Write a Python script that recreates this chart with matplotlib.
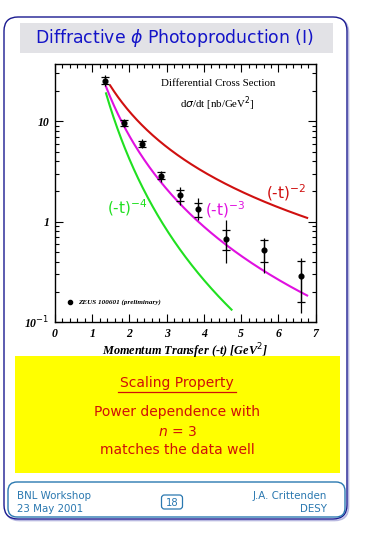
import matplotlib
matplotlib.use("Agg")
import matplotlib.pyplot as plt
import numpy as np
from matplotlib.patches import FancyBboxPatch, Rectangle
from matplotlib.ticker import FixedLocator, MultipleLocator, LogLocator, NullFormatter

# ---------------- data ----------------
t_vals = [1.35, 1.84, 2.34, 2.85, 3.35, 3.85, 4.60, 5.61, 6.61]
xsec = [25.0, 9.6, 5.9, 2.85, 1.84, 1.33, 0.67, 0.52, 0.285]
tot_hi = [29.0, 10.6, 6.7, 3.2, 2.22, 1.74, 1.05, 0.69, 0.436]
tot_lo = [22.5, 8.8, 5.45, 2.5, 1.48, 1.05, 0.39, 0.31, 0.124]
stat_hi = [27.5, 10.3, 6.4, 3.1, 2.05, 1.55, 0.83, 0.66, 0.41]
stat_lo = [23.5, 9.0, 5.6, 2.65, 1.62, 1.12, 0.52, 0.40, 0.16]

# power-law curves  A * (-t)^(-n)
curve_n = [2, 3, 4]
curve_norm = [50.0, 57.0, 67.0]
curve_tmin = [1.48, 1.37, 1.37]
curve_tmax = [6.77, 6.77, 4.74]
curve_colors = ["#d01010", "#e010e0", "#20e020"]
curve_labels = ["(-t)$^{-2}$", "(-t)$^{-3}$", "(-t)$^{-4}$"]
label_pos = [(6.2, 1.95), (4.58, 1.32), (1.95, 1.38)]

x_ticks = [0, 1, 2, 3, 4, 5, 6, 7]
y_ticks = [0.1, 1, 10]
y_ticklabels = ["10$^{-1}$", "1", "10"]

W, H = 365, 535
fig = plt.figure(figsize=(W / 100, H / 100), dpi=100)

# -------------- page decoration (pixel coordinates) --------------
bg = fig.add_axes([0, 0, 1, 1], zorder=0)
bg.set_xlim(0, W)
bg.set_ylim(H, 0)
bg.axis("off")

# outer frame with light shadow
bg.add_patch(FancyBboxPatch((5.5, 18.5), 343, 502, boxstyle="round,pad=0,rounding_size=14",
                            fc="none", ec="#b8b8e0", lw=1.2))
bg.add_patch(FancyBboxPatch((4, 17), 343, 502, boxstyle="round,pad=0,rounding_size=14",
                            fc="white", ec="#1a1a90", lw=1.0))
# title box
bg.add_patch(Rectangle((20, 22.5), 313, 30.5, fc="#e2e2e6", ec="none"))
bg.text(174, 38, r"Diffractive $\phi$ Photoproduction (I)", color="#1414c8",
        fontsize=12.4, family="DejaVu Sans", ha="center", va="center")

# yellow box
bg.add_patch(Rectangle((15, 356), 325, 117, fc="#ffff00", ec="none"))
red_txt = "#d01008"
fs_y = 10.0
bg.text(177, 383, "Scaling Property", color=red_txt, fontsize=fs_y,
        family="DejaVu Sans", ha="center", va="center")
bg.plot([118, 236], [391.5, 391.5], color=red_txt, lw=0.9)
bg.text(177, 412, "Power dependence with", color=red_txt, fontsize=fs_y,
        family="DejaVu Sans", ha="center", va="center")
bg.text(177, 432, r"$\mathit{n}$ = 3", color=red_txt, fontsize=fs_y,
        family="DejaVu Sans", ha="center", va="center")
bg.text(177, 450, "matches the data well", color=red_txt, fontsize=fs_y,
        family="DejaVu Sans", ha="center", va="center")

# footer
foot = "#2a78b0"
fs_f = 7.4
bg.add_patch(FancyBboxPatch((8, 482), 337, 35, boxstyle="round,pad=0,rounding_size=9",
                            fc="none", ec=foot, lw=1.0))
bg.text(17, 496, "BNL Workshop", color=foot, fontsize=fs_f, family="DejaVu Sans",
        ha="left", va="center")
bg.text(17, 509, "23 May 2001", color=foot, fontsize=fs_f, family="DejaVu Sans",
        ha="left", va="center")
bg.text(327, 496, "J.A. Crittenden", color=foot, fontsize=fs_f, family="DejaVu Sans",
        ha="right", va="center")
bg.text(327, 509, "DESY", color=foot, fontsize=fs_f, family="DejaVu Sans",
        ha="right", va="center")
bg.add_patch(FancyBboxPatch((161.5, 495), 21, 14, boxstyle="round,pad=0,rounding_size=3",
                            fc="none", ec=foot, lw=0.9))
bg.text(172, 502.5, "18", color=foot, fontsize=7.2, family="DejaVu Sans",
        ha="center", va="center")

# -------------- the plot --------------
left, right, top, bottom = 55, 315.7, 64, 322
ax = fig.add_axes([left / W, 1 - bottom / H, (right - left) / W, (bottom - top) / H], zorder=2)
ax.set_facecolor("white")
ax.set_yscale("log")
ax.set_xlim(0, 7)
ax.set_ylim(0.1, 37.3)

for n, A, t0, t1, c in zip(curve_n, curve_norm, curve_tmin, curve_tmax, curve_colors):
    tt = np.linspace(t0, t1, 200)
    ax.plot(tt, A * tt ** (-float(n)), color=c, lw=1.5, zorder=2)

for (lx, ly), lab, c in zip(label_pos, curve_labels, curve_colors):
    ax.text(lx, ly, lab, color=c, fontsize=11, family="DejaVu Sans",
            ha="center", va="center", zorder=4)

t_arr = np.array(t_vals)
y_arr = np.array(xsec)
ax.errorbar(t_arr, y_arr, yerr=[y_arr - np.array(tot_lo), np.array(tot_hi) - y_arr],
            fmt="none", ecolor="black", elinewidth=0.9, capsize=0, zorder=3)
ax.errorbar(t_arr, y_arr, yerr=[y_arr - np.array(stat_lo), np.array(stat_hi) - y_arr],
            fmt="none", ecolor="black", elinewidth=0.9, capsize=3, capthick=0.9, zorder=3)
ax.plot(t_arr, y_arr, "o", color="black", ms=3.4, zorder=5)

serif = "Liberation Serif"
ax.text(4.37, 24.0, "Differential Cross Section", fontsize=7.8, family=serif,
        ha="center", va="center")
ax.text(4.37, 15.0, r"d$\sigma$/dt [nb/GeV$^{2}$]", fontsize=7.8, family=serif,
        ha="center", va="center")

# legend
ax.plot([0.4], [0.158], "o", color="black", ms=3)
ax.text(0.62, 0.158, "ZEUS 100601 (preliminary)", fontsize=5.1, family=serif,
        style="italic", weight="bold", ha="left", va="center")

ax.xaxis.set_major_locator(FixedLocator(x_ticks))
ax.xaxis.set_minor_locator(MultipleLocator(0.2))
ax.yaxis.set_major_locator(FixedLocator(y_ticks))
ax.yaxis.set_minor_locator(LogLocator(base=10, subs=np.arange(2, 10)))
ax.yaxis.set_minor_formatter(NullFormatter())
ax.set_xticklabels([str(v) for v in x_ticks])
ax.set_yticklabels(y_ticklabels)
ax.tick_params(which="both", direction="in", top=True, right=True, width=0.8)
ax.tick_params(which="major", length=5.5, pad=4)
ax.tick_params(which="minor", length=3)
for lab in ax.get_xticklabels() + ax.get_yticklabels():
    lab.set_family(serif)
    lab.set_style("italic")
    lab.set_weight("bold")
    lab.set_fontsize(8.5)
for s in ax.spines.values():
    s.set_linewidth(1.0)

ax.set_xlabel("Momentum Transfer (-t) [GeV$^{2}$]", family=serif, style="italic",
              weight="bold", fontsize=8.8, labelpad=1)

fig.savefig("out.png", dpi=100)
